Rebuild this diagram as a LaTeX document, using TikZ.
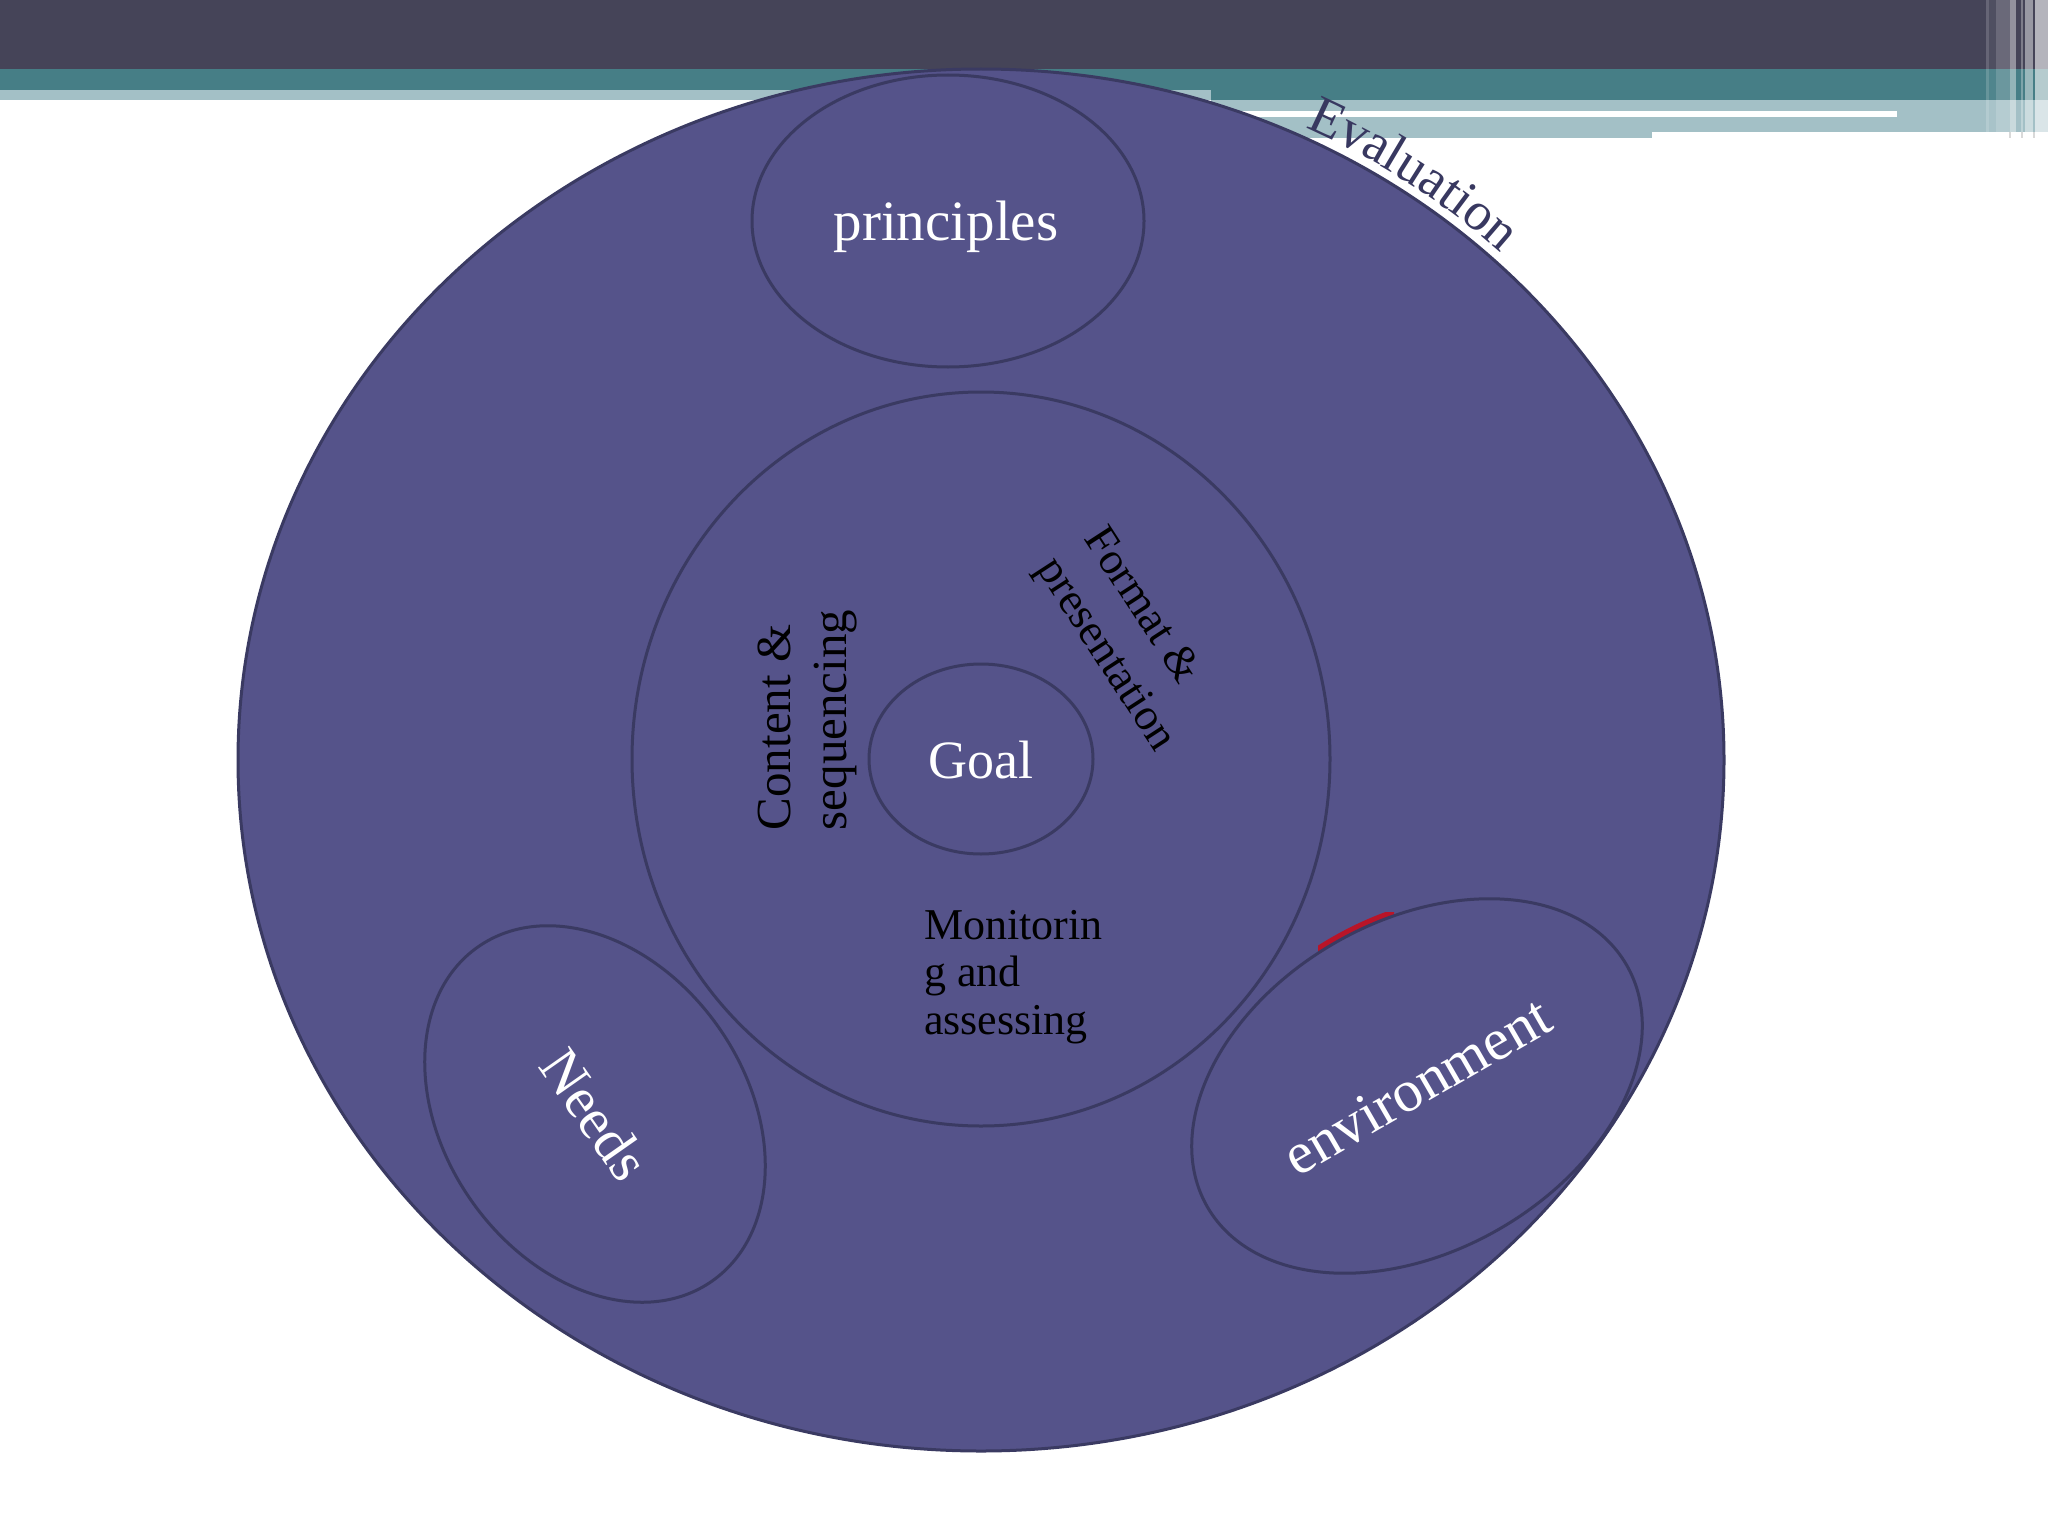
\documentclass[tikz,border=0pt]{standalone}
\usepackage{fontspec}
\setmainfont{Liberation Serif}
\usetikzlibrary{shapes.geometric,decorations.text}
\definecolor{topdark}{RGB}{69,68,88}
\definecolor{tealband}{RGB}{70,126,134}
\definecolor{lightband}{RGB}{163,192,198}
\definecolor{discfill}{RGB}{85,83,138}
\definecolor{discline}{RGB}{58,58,98}
\definecolor{evalc}{RGB}{56,56,96}
\definecolor{redarc}{RGB}{185,20,40}
\newcommand\evalfont{\fontsize{54}{58}\selectfont}
\begin{document}
\begin{tikzpicture}[x=1pt,y=-1pt,
  disc/.style={ellipse, draw=discline, fill=discfill, line width=3pt, inner sep=0pt, outer sep=0pt},
  lbl/.style={inner sep=0pt, outer sep=0pt}]
\useasboundingbox (0,0) rectangle (2048,1536);
\fill[white] (0,0) rectangle (2048,1536);
% top bands
\fill[topdark] (0,0) rectangle (2048,69);
\fill[tealband] (0,69) rectangle (1211,90);
\fill[tealband] (1211,69) rectangle (2048,100);
\fill[lightband] (0,90) rectangle (1211,100);
\fill[lightband] (1211,100) rectangle (1652,138);
\fill[lightband] (1652,100) rectangle (2048,132);
\fill[white] (1211,111) rectangle (1897,117.5);
% right vertical stripes
\fill[white, opacity=0.18] (1986,0) rectangle (1989,132);
\fill[white, opacity=0.06] (1989,0) rectangle (1996,132);
\fill[white, opacity=0.2] (1996,0) rectangle (2010,132);
\fill[white, opacity=0.42] (2010,0) rectangle (2016,132);
\fill[white, opacity=0.3] (2021,0) rectangle (2023,132);
\fill[white, opacity=0.45] (2025,0) rectangle (2033,132);
\fill[white, opacity=0.6] (2035,0) rectangle (2048,132);
\fill[black!15] (2009,132) rectangle (2011,138);
\fill[black!15] (2021,132) rectangle (2023,138);
\fill[black!15] (2033,132) rectangle (2035,138);
% circles
\node[disc, minimum width=1486, minimum height=1382] (outer) at (981,760) {};
\node[disc, minimum width=392, minimum height=292] (principles) at (948,221) {};
\node[disc, minimum width=698, minimum height=734] (ring) at (981,759) {};
\node[disc, minimum width=224, minimum height=190] (goal) at (981,759) {};
\node[disc, minimum width=408, minimum height=302, rotate=-55, text=white,
      font=\fontsize{58}{60}\selectfont] (needs) at (595,1114) {Needs};
% red crescent behind environment
\begin{scope}
  \clip (1318,912) rectangle (1394,960);
  \fill[redarc, rotate around={30:(1415,1082)}] (1415,1082) ellipse [x radius=243, y radius=167];
\end{scope}
\node[disc, minimum width=484, minimum height=330, rotate=30, text=white,
      font=\fontsize{59}{60}\selectfont] (env) at (1417,1086) {environment};
% labels
\node[lbl, text=white, anchor=base, font=\fontsize{57}{60}\selectfont] (principlestext) at (946,240) {principles};
\node[lbl, text=white, anchor=base, font=\fontsize{54}{56}\selectfont] (goaltext) at (981,778) {Goal};
\node[lbl, text=black, rotate=90, align=left, font=\fontsize{49}{56}\selectfont] (content) at (807,720) {Content \&\\sequencing};
\node[lbl, text=black, rotate=-57, align=left, font=\fontsize{45}{56}\selectfont] (format) at (1128,640) {Format \&\\presentation};
\node[lbl, text=black, anchor=north west, align=left, font=\fontsize{44}{47.5}\selectfont] (monitor) at (924,910) {Monitorin\\g and\\assessing};
% Evaluation along the outer circle
\path[decorate, decoration={text along path, text={|\evalfont|Evaluation}, text color=evalc, text align=left}]
  (981,760) ++(-64.5:753 and 701) arc[start angle=-64.5, end angle=-25, x radius=753, y radius=701];
\end{tikzpicture}
\end{document}
